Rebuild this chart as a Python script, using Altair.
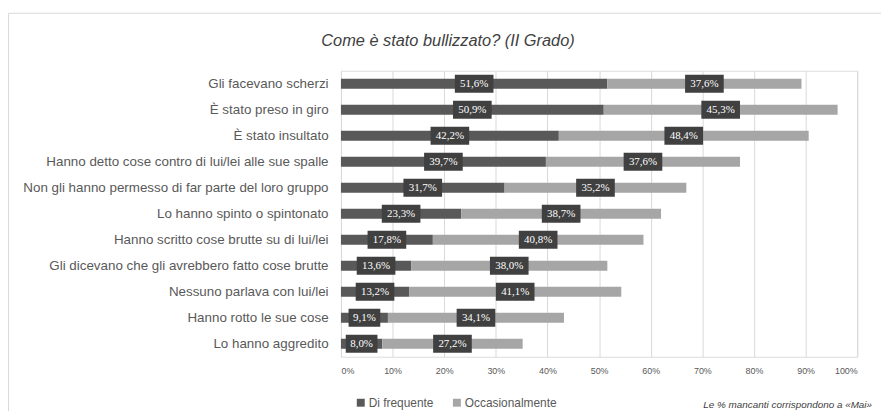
import altair as alt
import pandas as pd

categories = [
    "Gli facevano scherzi",
    "È stato preso in giro",
    "È stato insultato",
    "Hanno detto cose contro di lui/lei alle sue spalle",
    "Non gli hanno permesso di far parte del loro gruppo",
    "Lo hanno spinto o spintonato",
    "Hanno scritto cose brutte su di lui/lei",
    "Gli dicevano che gli avrebbero fatto cose brutte",
    "Nessuno parlava con lui/lei",
    "Hanno rotto le sue cose",
    "Lo hanno aggredito",
]
di_frequente = [51.6, 50.9, 42.2, 39.7, 31.7, 23.3, 17.8, 13.6, 13.2, 9.1, 8.0]
occasionalmente = [37.6, 45.3, 48.4, 37.6, 35.2, 38.7, 40.8, 38.0, 41.1, 34.1, 27.2]
series = ["Di frequente", "Occasionalmente"]
colors = ["#595959", "#a6a6a6"]
x_ticks = [0, 10, 20, 30, 40, 50, 60, 70, 80, 90, 100]
title_text = "Come è stato  bullizzato?  (II Grado)"
footnote = "Le % mancanti corrispondono  a «Mai»"

rows = []
for c, f, o in zip(categories, di_frequente, occasionalmente):
    for k, (s, v) in enumerate(zip(series, [f, o])):
        rows.append({"cat": c, "serie": s, "value": v, "ord": k,
                     "label": f"{v:.1f}%".replace(".", ",")})
df = pd.DataFrame(rows)

base = alt.Chart(df).transform_stack(
    stack="value", groupby=["cat"], as_=["v0", "v1"],
    sort=[alt.SortField("ord", order="ascending")]
).transform_calculate(
    mid="(datum.v0 + datum.v1) / 2",
    nlen="length(datum.label)"
)

y_enc = alt.Y("cat:N", sort=categories, title=None,
              scale=alt.Scale(paddingInner=0, paddingOuter=0),
              axis=alt.Axis(domain=False, ticks=False, labelPadding=13,
                            labelFontSize=13.5, labelColor="#595959",
                            labelFont="Liberation Sans", labelLimit=400))
x_enc = alt.X("v0:Q", title=None,
              scale=alt.Scale(domain=[0, 100], nice=False),
              axis=alt.Axis(values=x_ticks, labelExpr="datum.value + '%'",
                            domain=False, ticks=False, grid=True,
                            gridColor="#d9d9d9", gridWidth=1,
                            labelFontSize=9, labelColor="#595959",
                            labelPadding=10))

bars = base.mark_bar(size=10).encode(
    x=x_enc, x2="v1:Q", y=y_enc,
    color=alt.Color("serie:N", scale=alt.Scale(domain=series, range=colors),
                    legend=alt.Legend(title=None, orient="none", legendX=14,
                                      legendY=329, direction="horizontal",
                                      symbolType="square", symbolSize=64,
                                      symbolStrokeWidth=0, labelFontSize=12,
                                      labelColor="#595959", labelOffset=2,
                                      columnPadding=17)),
    order=alt.Order("ord:Q"),
)

box_long = base.transform_filter("datum.nlen > 4").mark_bar(
    size=18, color="#404040", xOffset=-19.5, x2Offset=19.5
).encode(x=alt.X("mid:Q"), x2="mid:Q", y=alt.Y("cat:N", sort=categories))

box_short = base.transform_filter("datum.nlen <= 4").mark_bar(
    size=18, color="#404040", xOffset=-16, x2Offset=16
).encode(x=alt.X("mid:Q"), x2="mid:Q", y=alt.Y("cat:N", sort=categories))

labels = base.mark_text(color="white", fontSize=11,
                        font="Liberation Sans Narrow").encode(
    x=alt.X("mid:Q"), y=alt.Y("cat:N", sort=categories), text="label:N")

note = alt.Chart(pd.DataFrame({"t": [footnote]})).mark_text(
    align="right", baseline="middle", fontStyle="italic", fontSize=10,
    color="#404040"
).encode(x=alt.value(536), y=alt.value(337), text="t:N")

title = alt.Chart(pd.DataFrame({"t": [title_text]})).mark_text(
    align="center", baseline="middle", fontStyle="italic", fontSize=16.5,
    color="#404040", font="Liberation Sans"
).encode(x=alt.value(108), y=alt.value(-30), text="t:N")

border = alt.Chart(pd.DataFrame({"t": [0]})).mark_rect(
    fillOpacity=0, stroke="#d9d9d9", strokeWidth=1
).encode(x=alt.value(-335.5), x2=alt.value(600), y=alt.value(-58),
         y2=alt.value(400))

chart = alt.layer(border, bars, box_long, box_short, labels, note, title).properties(
    width=521, height=288.6,
    autosize=alt.AutoSizeParams(type="none"),
    padding={"left": 336, "top": 61.5, "right": 24, "bottom": 53},
).configure_view(stroke=None).configure(font="Liberation Sans",
                                        background="white")

chart.save("out.html", embed_options={"renderer": "svg", "actions": False})
